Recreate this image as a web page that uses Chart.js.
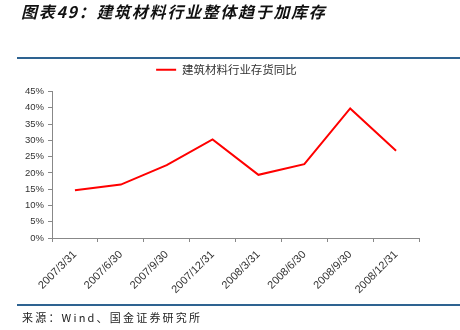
<!DOCTYPE html>
<html>
<head>
<meta charset="utf-8">
<script src="https://cdn.jsdelivr.net/npm/chart.js@4/dist/chart.umd.min.js"></script>
<style>
  html, body { margin: 0; padding: 0; background: #fff; }
  #wrap { position: relative; width: 460px; height: 330px; overflow: hidden; }
  #c { position: absolute; left: 0; top: 0; }
  #title { position: absolute; left: 21px; top: -1px; font-family: "Noto Sans CJK SC", sans-serif; font-weight: bold; font-style: italic; font-size: 16px; letter-spacing: 1.7px; color: #111; white-space: nowrap; }
  .rule { position: absolute; left: 17px; width: 443px; height: 2px; background: #2e6391; }
  #src { position: absolute; left: 22px; top: 309px; font-family: "Noto Sans CJK SC", sans-serif; font-size: 11px; letter-spacing: 2.2px; color: #222; white-space: nowrap; }
</style>
</head>
<body>
<div id="wrap">
  <canvas id="c" width="460" height="330"></canvas>
  <div id="title">图表49：建筑材料行业整体趋于加库存</div>
  <div class="rule" style="top:57px"></div>
  <div class="rule" style="top:304px"></div>
  <div id="src">来源：Wind、国金证券研究所</div>
</div>
<script>
const categories = ["2007/3/31","2007/6/30","2007/9/30","2007/12/31","2008/3/31","2008/6/30","2008/9/30","2008/12/31"];
const seriesName = "建筑材料行业存货同比";
const inventoryYoY = [14.7, 16.4, 22.4, 30.3, 19.4, 22.7, 39.8, 26.8];
const yTicks = [0, 5, 10, 15, 20, 25, 30, 35, 40, 45];

const legendShift = {
  id: 'legendShift',
  afterLayout(chart) {
    const lg = chart.legend;
    if (!lg) return;
    lg.left += 17; lg.right += 17;
    lg.top -= 6; lg.bottom -= 6;
  }
};

new Chart(document.getElementById('c'), {
  type: 'line',
  data: {
    labels: categories,
    datasets: [{
      label: seriesName,
      data: inventoryYoY,
      borderColor: '#ff0000',
      backgroundColor: '#ff0000',
      borderWidth: 2,
      pointRadius: 0,
      tension: 0,
      fill: false
    }]
  },
  plugins: [legendShift],
  options: {
    responsive: false,
    animation: false,
    devicePixelRatio: 1,
    layout: { padding: { top: 64, left: 0, right: 41, bottom: 25 } },
    plugins: {
      title: { display: false },
      tooltip: { enabled: false },
      legend: {
        display: true,
        position: 'top',
        labels: {
          usePointStyle: true,
          pointStyle: 'line',
          pointStyleWidth: 20,
          boxHeight: 11,
          padding: 6,
          color: '#333',
          font: { family: '"Noto Sans CJK SC", sans-serif', size: 11.5 }
        }
      }
    },
    scales: {
      x: {
        type: 'category',
        offset: true,
        afterFit: (s) => { s.height = 67; },
        border: { display: true, color: '#888', width: 1 },
        grid: { display: true, drawOnChartArea: false, drawTicks: true, tickLength: 4, color: '#888', offset: true },
        ticks: {
          autoSkip: false,
          maxRotation: 45,
          minRotation: 45,
          padding: 6,
          color: '#333',
          font: { family: 'Liberation Sans, Arial, sans-serif', size: 11 }
        }
      },
      y: {
        min: 0,
        max: 45,
        afterFit: (s) => { s.width = 52; },
        afterBuildTicks: (s) => { s.ticks = yTicks.map(v => ({ value: v })); },
        border: { display: true, color: '#888', width: 1 },
        grid: { display: true, drawOnChartArea: false, drawTicks: true, tickLength: 4, color: '#888' },
        ticks: {
          padding: 4,
          color: '#333',
          font: { family: 'Liberation Sans, Arial, sans-serif', size: 9.5 },
          callback: (v) => v + '%'
        }
      }
    }
  }
});
</script>
</body>
</html>
